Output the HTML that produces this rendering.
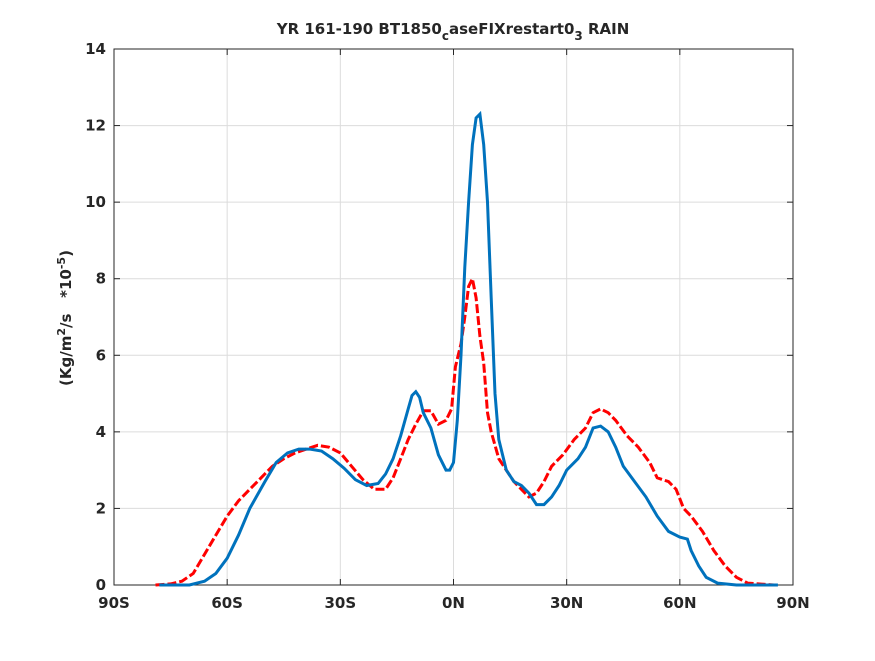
<!DOCTYPE html>
<html><head><meta charset="utf-8"><style>
body{margin:0;background:#fff;}
svg text{font-family:"DejaVu Sans","Liberation Sans",sans-serif;font-weight:bold;fill:#262626;}
</style></head><body>
<svg width="875" height="656" xmlns="http://www.w3.org/2000/svg">
<rect width="875" height="656" fill="#fff"/>
<g id="grid"></g>
<g id="axes"></g>
<g id="series"></g>
<text x="453" y="34" font-size="15" text-anchor="middle">YR 161-190 BT1850<tspan dy="6" font-size="12">c</tspan><tspan dy="-6">aseFIXrestart0</tspan><tspan dy="6" font-size="12">3</tspan><tspan dy="-6"> RAIN</tspan></text>
<text transform="translate(71,318) rotate(-90)" font-size="15" text-anchor="middle">(Kg/m<tspan dy="-6" font-size="11">2</tspan><tspan dy="6" xml:space="preserve">/s   *10</tspan><tspan dy="-6" font-size="11">-5</tspan><tspan dy="6">)</tspan></text>
</svg>
<script>
const xTicks=[-90,-60,-30,0,30,60,90];
const xTickLabels=["90S","60S","30S","0N","30N","60N","90N"];
const yTicks=[0,2,4,6,8,10,12,14];
const blueLat=[-78,-70,-66,-63,-60,-57,-54,-50,-47,-44,-41,-38,-35,-32,-29,-26,-23,-20,-18,-16,-14,-12,-11,-10,-9,-8,-6,-4,-2,-1,0,1,2,3,4,5,6,7,8,9,10,11,12,14,16,18,20,22,24,26,28,30,33,35,37,39,41,43,45,48,51,54,57,60,62,63,65,67,70,75,80,86];
const blueVal=[0,0,0.1,0.3,0.7,1.3,2.0,2.7,3.2,3.45,3.55,3.55,3.5,3.3,3.05,2.75,2.6,2.65,2.9,3.3,3.9,4.6,4.95,5.05,4.9,4.5,4.1,3.4,3.0,3.0,3.2,4.3,6,8.3,10,11.5,12.2,12.3,11.5,10.0,7.5,5.0,3.8,3.0,2.7,2.6,2.4,2.1,2.1,2.3,2.6,3.0,3.3,3.6,4.1,4.15,4.0,3.6,3.1,2.7,2.3,1.8,1.4,1.25,1.2,0.9,0.5,0.2,0.05,0,0,0];
const redLat=[-79,-75,-72,-69,-66,-63,-60,-57,-54,-51,-48,-45,-42,-39,-36,-33,-30,-27,-24,-21,-18,-16,-14,-12,-10,-8,-6,-4,-2,-0.5,0.5,2,3,4,5,6,7,8,9,10,12,14,16,18,20,22,24,26,29,32,35,37,39,41,43,46,49,52,54,57,59,61,63,66,69,72,75,78,85];
const redVal=[0,0.03,0.1,0.3,0.8,1.3,1.8,2.2,2.5,2.8,3.1,3.3,3.45,3.55,3.65,3.6,3.45,3.1,2.75,2.5,2.5,2.8,3.3,3.8,4.2,4.55,4.55,4.2,4.3,4.6,5.7,6.3,7.0,7.8,8.0,7.5,6.5,5.8,4.5,4.0,3.3,3.0,2.7,2.5,2.3,2.4,2.7,3.1,3.4,3.8,4.1,4.5,4.6,4.5,4.3,3.9,3.6,3.2,2.8,2.7,2.5,2.0,1.8,1.4,0.9,0.5,0.2,0.05,0];
const L=114,R=793,T=49,B=585;
const sx=v=>L+(v+90)/180*(R-L);
const sy=v=>B-v/14*(B-T);
const NS="http://www.w3.org/2000/svg";
function mk(tag,parent,attrs){const e=document.createElementNS(NS,tag);for(const k in attrs)e.setAttribute(k,attrs[k]);parent.appendChild(e);return e;}
const grid=document.getElementById('grid'),axes=document.getElementById('axes'),ser=document.getElementById('series');
xTicks.forEach((t,i)=>{
 const g=mk('line',grid,{x1:sx(t),x2:sx(t),y1:T,y2:B,stroke:'#dcdcdc','stroke-width':1});
 
 
 mk('line',axes,{x1:sx(t),x2:sx(t),y1:B,y2:B-6,stroke:'#262626'});
 mk('line',axes,{x1:sx(t),x2:sx(t),y1:T,y2:T+6,stroke:'#262626'});
 const tx=mk('text',axes,{x:sx(t),y:B+23,'font-size':15,'text-anchor':'middle'});
 tx.textContent=xTickLabels[i];
 
 
});
yTicks.forEach(t=>{
 const g=mk('line',grid,{x1:L,x2:R,y1:sy(t),y2:sy(t),stroke:'#dcdcdc','stroke-width':1});
 
 
 mk('line',axes,{x1:L,x2:L+6,y1:sy(t),y2:sy(t),stroke:'#262626'});
 mk('line',axes,{x1:R,x2:R-6,y1:sy(t),y2:sy(t),stroke:'#262626'});
 const tx=mk('text',axes,{x:L-8,y:sy(t)+5,'font-size':15,'text-anchor':'end'});
 tx.textContent=String(t);
 
 
});
mk('rect',axes,{x:L,y:T,width:R-L,height:B-T,fill:'none',stroke:'#262626','stroke-width':1});
function pts(la,va){return la.map((l,i)=>sx(l).toFixed(1)+','+sy(va[i]).toFixed(1)).join(' ');}
const rl=mk('polyline',ser,{points:pts(redLat,redVal),fill:'none',stroke:'#ff0000','stroke-width':3,'stroke-dasharray':'9 3'});


const bl=mk('polyline',ser,{points:pts(blueLat,blueVal),fill:'none',stroke:'#0072bd','stroke-width':3});


</script>
</body></html>
